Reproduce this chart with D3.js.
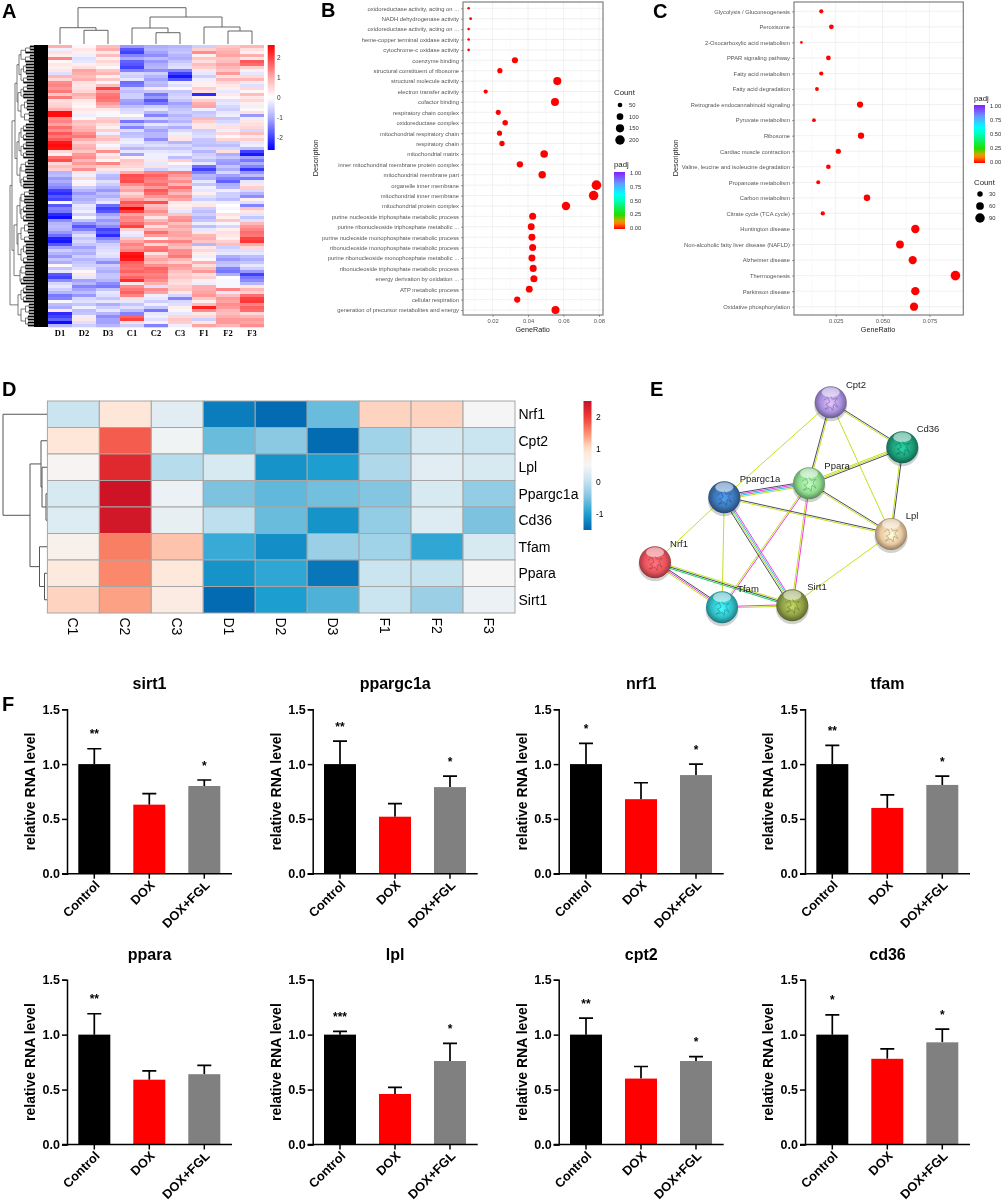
<!DOCTYPE html>
<html>
<head>
<meta charset="utf-8">
<script src="https://cdn.jsdelivr.net/npm/d3@7"></script>
<style>
  html, body { margin: 0; background: #fff; }
  svg { display: block; font-family: "Liberation Sans", Arial, sans-serif; filter: blur(0.35px); }
</style>
</head>
<body>
<div id="chart"></div>
<script>
// panel A: heatmap values in tenths, one row per stripe
var heatCols = ['D1','D2','D3','C1','C2','C3','F1','F2','F3'];
var heatRows = [
[10,1,8,-12,-10,-9,-6,7,9],[-2,3,10,-18,-9,-8,6,9,4],[4,2,3,-20,-11,-7,13,10,2],[2,-2,8,-14,-13,-9,2,11,10],
[14,-4,2,-10,-8,-10,7,7,3],[1,-3,5,-17,-12,-7,4,8,18],[3,2,3,-18,-10,-5,8,11,16],[2,4,1,-20,-9,-4,6,9,6],
[3,11,7,-14,-13,-14,3,7,2],[-4,10,9,-5,-6,-20,-3,12,-3],[9,8,2,-6,-9,-24,-6,4,5],[5,10,7,-3,-11,-18,-2,9,9],
[13,4,1,-16,-8,-2,2,5,3],[14,3,8,-15,-9,-4,2,3,-4],[12,4,20,-6,3,1,6,2,5],[15,5,12,-8,-7,-7,4,-3,1],
[7,10,15,-6,-15,-6,-22,3,8],[15,8,16,-6,-12,-5,2,1,3],[4,3,15,-11,-18,-7,6,-4,5],[5,2,12,-12,-15,-11,10,-3,2],
[6,1,9,-8,-6,-9,11,-5,-2],[10,3,3,-5,-3,-7,-2,-6,1],[25,2,1,-4,-9,-6,-7,-3,4],[25,-2,-1,1,-14,-9,-6,-2,-12],
[13,1,6,-4,-5,-7,9,-7,-2],[14,8,7,-15,-12,-9,6,-5,3],[11,7,4,-7,-3,-5,3,-3,4],[16,9,2,-14,-8,-10,3,4,5],
[13,10,6,-4,-11,-5,-6,-2,-5],[18,13,-2,-8,-9,-2,-5,5,8],[15,15,7,-7,-9,3,-4,1,3],[18,10,8,-3,-13,3,-7,5,6],
[24,6,4,-2,-6,-9,-7,-6,-3],[25,9,-1,-5,-4,-5,-8,-8,-2],[24,10,3,-9,-7,-7,-5,-5,-8],[5,7,13,-3,-3,-4,-9,4,-20],
[2,12,2,-11,-2,-2,-6,-10,-24],[16,13,5,2,-2,-8,-5,-7,-11],[19,9,1,7,3,6,-8,-11,-15],[5,12,14,6,-3,1,-3,-12,-10],
[8,8,6,5,4,-4,-16,-7,-14],[6,13,3,3,-6,-3,-20,-10,-21],[-9,3,-4,10,14,15,-14,-5,-12],[-8,-2,-8,19,17,12,-9,-11,-8],
[-12,5,-9,18,15,10,-10,-14,-15],[-10,-1,-4,19,14,13,-3,-17,-3],[-12,2,-6,13,16,9,-7,-10,3],[-14,-6,-9,9,12,16,-2,-9,6],
[-20,-9,-12,11,18,12,-3,-2,-5],[-22,-12,-8,5,16,9,2,-6,-9],[-18,-9,-10,8,12,13,-4,-6,-13],[-20,-10,-6,12,8,11,-6,-8,2],
[1,-8,-3,18,19,3,-2,-2,-4],[-18,-3,-16,16,8,2,3,0,-14],[-14,-4,-20,26,10,3,-6,-1,7],[-15,-2,-18,20,13,-3,-8,0,3],
[-22,-6,-11,11,10,7,-6,4,-3],[-25,-1,-8,14,3,12,-9,2,-7],[-13,-7,-12,13,9,13,-7,7,-4],[-9,-13,-10,16,12,8,-2,-1,9],
[-8,-18,-13,20,4,11,-8,-5,12],[-9,-14,-20,6,10,9,-3,2,14],[-12,-8,-18,-2,16,11,3,4,16],[-16,-4,-22,-3,12,11,9,3,15],
[-23,-7,-14,7,1,9,10,2,20],[-24,-5,-10,11,14,14,7,6,21],[-18,-7,-6,14,5,10,-9,8,10],[-11,-11,-5,12,15,8,3,-6,5],
[-6,-8,-4,14,16,13,5,-4,-4],[-9,-10,-3,24,4,13,2,-3,-3],[-12,-6,-4,25,9,15,-2,-10,-8],[-7,-9,-8,24,11,9,1,-12,-10],
[-10,-7,-13,17,8,6,10,-8,-7],[1,-6,-6,16,13,12,4,-7,-3],[-7,-4,-8,15,17,11,8,-14,-6],[-3,1,-10,17,16,8,12,-15,-12],
[-18,3,-7,14,14,6,4,-10,-20],[-20,-3,-7,17,15,7,6,0,-15],[-13,-11,-9,22,13,5,2,-1,-13],[-5,-9,-13,3,10,4,-2,-1,-9],
[-3,-14,-15,13,-4,6,10,-1,3],[-6,-11,-7,15,13,7,10,14,9],[-9,-8,-3,17,11,3,11,-3,6],[-15,-12,-4,14,-2,-5,12,8,16],
[-14,-5,-7,4,-3,-14,7,12,20],[-1,-4,-3,-3,-6,-5,2,11,21],[-8,-7,-10,-7,-2,-4,8,13,14],[-10,-2,-6,-4,-7,2,23,12,17],
[3,-8,-3,-8,-15,-1,13,9,16],[-22,-7,-9,-14,-3,-3,3,8,5],[-20,-2,-13,17,-2,5,5,10,9],[-17,3,-11,20,-4,7,-6,12,12],
[-25,-4,-11,4,2,6,3,12,11],[-9,-6,-9,-6,-14,-2,11,9,13]
];
// dendrograms: [height, child, child]; a child is a column index or [firstRow, lastRow]
var heatColTree = [36.3, [16.3, 0, [13.7, 1, 2]], [27, [16, 3, [11.3, 4, 5]], [17, 6, [13, 7, 8]]]];
var heatRowTree = [38,
  [36,
    [33, [31, [29, [0,5], [6,12]], [30, [13,17], [18,25]]], [31, [29, [26,31], [32,37]], [28, [38,42], [43,47]]]],
    [34, [31, [28, [48,52], [53,58]], [30, [59,65], [66,72]]], [28, [73,76], [77,79]]]
  ],
  [30, [80,85], [86,93]]
];

// panel B
var bTerms = ['oxidoreductase activity, acting on ...','NADH dehydrogenase activity','oxidoreductase activity, acting on ...','heme-copper terminal oxidase activity','cytochrome-c oxidase activity','coenzyme binding','structural constituent of ribosome','structural molecule activity','electron transfer activity','cofactor binding','respiratory chain complex','oxidoreductase complex','mitochondrial respiratory chain','respiratory chain','mitochondrial matrix','inner mitochondrial membrane protein complex','mitochondrial membrane part','organelle inner membrane','mitochondrial inner membrane','mitochondrial protein complex','purine nucleoside triphosphate metabolic process','purine ribonucleoside triphosphate metabolic ...','purine nucleoside monophosphate metabolic process','ribonucleoside monophosphate metabolic process','purine ribonucleoside monophosphate metabolic ...','ribonucleoside triphosphate metabolic process','energy derivation by oxidation ...','ATP metabolic process','cellular respiration','generation of precursor metabolites and energy'];
var bRatio = [.0065,.0076,.0065,.0065,.0065,.0326,.0241,.0565,.0161,.0552,.0232,.0271,.0239,.0253,.0491,.0354,.048,.0786,.077,.0614,.0426,.0418,.0422,.0426,.0422,.0429,.0433,.0407,.0339,.0555];
var bCount = [17,20,17,17,17,85,63,147,42,144,60,70,62,66,128,92,125,204,200,160,111,109,110,111,110,112,113,106,88,144];
var bCountLegend = [50,100,150,200];

// panel C
var cTerms = ['Glycolysis / Gluconeogenesis','Peroxisome','2-Oxocarboxylic acid metabolism','PPAR signaling pathway','Fatty acid metabolism','Fatty acid degradation','Retrograde endocannabinoid signaling','Pyruvate metabolism','Ribosome','Cardiac muscle contraction','Valine, leucine and isoleucine degradation','Propanoate metabolism','Carbon metabolism','Citrate cycle (TCA cycle)','Huntington disease','Non-alcoholic fatty liver disease (NAFLD)','Alzheimer disease','Thermogenesis','Parkinson disease','Oxidative phosphorylation'];
var cRatio = [.0173,.0227,.0067,.0211,.0173,.015,.038,.0134,.0385,.0264,.0211,.0157,.0417,.0181,.0675,.0593,.0661,.0889,.0675,.0668];
var cCount = [18,23,7,22,18,15,39,14,40,27,22,16,43,19,70,61,68,92,70,69];
var cCountLegend = [30,60,90];
var padjTicks = [0,.25,.5,.75,1];

// panel D
var geneCols = ['C1','C2','C3','D1','D2','D3','F1','F2','F3'];
var geneRows = ['Nrf1','Cpt2','Lpl','Ppargc1a','Cd36','Tfam','Ppara','Sirt1'];
var geneValues = [
[.05,.95,.3,-1.3,-1.45,-.6,1.1,1.1,.5],
[.95,1.8,.45,-.6,-.4,-1.45,-.25,.15,.05],
[.55,2.2,-.1,.2,-1.1,-1,-.15,.3,.2],
[.2,2.45,.4,-.5,-.65,-.55,-.45,.2,-.35],
[.25,2.4,.35,-.05,-.6,-1.1,-.35,.25,-.5],
[.65,1.6,1.2,-.85,-1.15,-.3,-.25,-.9,.2],
[.85,1.55,.9,-1.1,-.9,-1.35,.05,0,.5],
[1.1,1.4,.8,-1.45,-1,-.75,.05,-.3,.4]];
var geneTree = [44, 0, [17, [6, 1, [5, 2, [1, 3, 4]]], [7.5, 5, [2.5, 6, 7]]]];

// panel E
var netNodes = ['Cpt2','Cd36','Ppara','Ppargc1a','Lpl','Nrf1','Tfam','Sirt1'];
var netColors = ['#a88fdc','#1c9c78','#8edb8e','#3b74b4','#e9c9a0','#e9545c','#30bdc6','#8e9f46'];
var netX = [830.7,902.3,809,724.3,891,655,722,792.3];
var netY = [402.3,447.3,483.3,497.3,534,562.3,607.3,605.3];
var netLabelX = [856,928,837,760,912,679,748,817];
var netLabelY = [385,429,466,479,516,544,589,587];
var netEdges = [
['Cpt2','Cd36','dy'],['Cpt2','Ppara','yd'],['Cpt2','Ppargc1a','y'],['Cpt2','Lpl','y'],
['Cd36','Ppara','dyy'],['Cd36','Lpl','dy'],['Ppara','Ppargc1a','ycmd'],['Ppara','Lpl','dy'],
['Ppara','Sirt1','my'],['Ppara','Tfam','my'],['Ppargc1a','Lpl','dy'],['Ppargc1a','Sirt1','mcyd'],
['Ppargc1a','Nrf1','y'],['Ppargc1a','Tfam','y'],['Lpl','Sirt1','y'],['Nrf1','Tfam','dmy'],
['Nrf1','Sirt1','ydg'],['Tfam','Sirt1','my']];
var channelColors = {y: '#c4df1e', d: '#4a4a66', c: '#1cc4e8', m: '#f03ee0', g: '#18d860'};
var ribbon = [[-7,-3],[-3,-6],[-1,-1],[-5,1],[-2,3],[-6,6],[0,4],[2,7],[3,1],[7,4],[4,-2],[7,-5],[2,-4],[0,-7]];

// panel F
var bioGroups = ['Control','DOX','DOX+FGL'];
var bioTitles = ['sirt1','ppargc1a','nrf1','tfam','ppara','lpl','cpt2','cd36'];
var bioMeans = [[1,.63,.8],[1,.52,.79],[1,.68,.9],[1,.6,.81],[1,.59,.64],[1,.46,.76],[1,.6,.76],[1,.78,.93]];
var bioTops = [[1.14,.73,.855],[1.21,.64,.89],[1.19,.83,1],[1.17,.72,.89],[1.19,.67,.72],[1.03,.52,.92],[1.15,.71,.8],[1.18,.87,1.05]];
var bioStars = [['**','','*'],['**','','*'],['*','','*'],['**','','*'],['**','',''],['***','','*'],['**','','*'],['*','','*']];
var bioTicks = [0,.5,1,1.5];

var svg = d3.select('#chart').append('svg').attr('width', 1003).attr('height', 1202);
var defs = svg.append('defs');

function panelLetter(t, x, y) {
  svg.append('text').attr('x', x).attr('y', y).attr('font-size', 20).attr('font-weight', 'bold').text(t);
}
panelLetter('A', 2, 18); panelLetter('B', 321, 17); panelLetter('C', 653, 18);
panelLetter('D', 2, 396); panelLetter('E', 650, 396); panelLetter('F', 2, 711);

// turns a nested tree into elbow segments; pos maps a leaf index to its centre
function treeSegments(node, pos, out) {
  if (typeof node === 'number') return {p: pos(node), h: 0};
  if (node.length === 2) return rangeNode(node[0], node[1], 27, pos, out);
  var a = treeSegments(node[1], pos, out), b = treeSegments(node[2], pos, out);
  out.push({h: node[0], a: a, b: b});
  return {p: (a.p + b.p) / 2, h: node[0]};
}
// fine branching inside a row cluster, the picture is too dense to read it row by row
function rangeNode(first, last, h, pos, out) {
  if (first === last) return {p: pos(first), h: 0};
  var mid = (first + last) >> 1;
  var step = 2.5 + (first + last) % 3;
  var a = rangeNode(first, mid, h - step, pos, out), b = rangeNode(mid + 1, last, h - step, pos, out);
  out.push({h: h, a: a, b: b});
  return {p: (a.p + b.p) / 2, h: h};
}
function drawHorizontalTree(g, segs, x) {
  g.selectAll('path').data(segs).enter().append('path').attr('fill', 'none')
    .attr('d', function(s) {
      return 'M' + x(s.a.h) + ',' + s.a.p + 'H' + x(s.h) + 'V' + s.b.p + 'H' + x(s.b.h);
    });
}

// ---------- A ----------
var heatX = d3.scaleBand().domain(d3.range(heatCols.length)).range([48, 264]);
var heatY = d3.scaleBand().domain(d3.range(heatRows.length)).range([45, 327]);
var heatColor = d3.scaleLinear().domain([-2.6, -1, 0, 1, 2.6])
  .range(['#0000ff', '#aeaeff', '#ffffff', '#ffaeae', '#ff0000']);
var gA = svg.append('g');
heatRows.forEach(function(row, i) {
  gA.append('g').selectAll('rect').data(row).enter().append('rect')
    .attr('x', function(d, j) { return heatX(j); })
    .attr('y', heatY(i)).attr('width', heatX.bandwidth()).attr('height', heatY.bandwidth() + .3)
    .attr('fill', function(d) { return heatColor(d / 10); });
});
gA.selectAll('.collab').data(heatCols).enter().append('text')
  .attr('x', function(d, i) { return heatX(i) + heatX.bandwidth() / 2; })
  .attr('y', 336).attr('text-anchor', 'middle').attr('font-size', 8.5)
  .attr('font-weight', 'bold').attr('font-family', 'Liberation Serif').text(function(d) { return d; });

var colSegs = [];
treeSegments(heatColTree, function(i) { return heatX(i) + heatX.bandwidth() / 2; }, colSegs);
var colH = d3.scaleLinear().domain([0, 40]).range([44, 4]);
gA.append('g').attr('stroke', '#555').attr('stroke-width', .9).selectAll('path').data(colSegs).enter().append('path')
  .attr('fill', 'none')
  .attr('d', function(s) {
    return 'M' + s.a.p + ',' + colH(s.a.h) + 'V' + colH(s.h) + 'H' + s.b.p + 'V' + colH(s.b.h);
  });

var rowSegs = [];
treeSegments(heatRowTree, function(i) { return heatY(i) + heatY.bandwidth() / 2; }, rowSegs);
var rowH = d3.scaleLinear().domain([0, 38]).range([48, 10]);
var gRowTree = gA.append('g').attr('stroke', '#444').attr('stroke-width', .7);
drawHorizontalTree(gRowTree, rowSegs, rowH);
// leaf spikes pile up into the black comb next to the heatmap
var leafSpikes = [];
rowSegs.forEach(function(s) {
  if (s.a.h === 0) leafSpikes.push({p: s.a.p, h: s.h});
  if (s.b.h === 0) leafSpikes.push({p: s.b.p, h: s.h});
});
gA.append('g').selectAll('line').data(leafSpikes).enter().append('line')
  .attr('x1', 48).attr('x2', function(d) { return rowH(d.h); })
  .attr('y1', function(d) { return d.p; }).attr('y2', function(d) { return d.p; })
  .attr('stroke', '#000').attr('stroke-width', 1.8);
gA.append('rect').attr('x', 34).attr('y', 45).attr('width', 14).attr('height', 282).attr('fill', '#000');

function verticalGradient(id, scale, top, bottom) {
  var g = defs.append('linearGradient').attr('id', id).attr('x1', 0).attr('x2', 0).attr('y1', 0).attr('y2', 1);
  d3.range(0, 1.001, .05).forEach(function(t) {
    g.append('stop').attr('offset', t).attr('stop-color', scale(top + (bottom - top) * t));
  });
}
verticalGradient('gradA', heatColor, 2.64, -2.64);
gA.append('rect').attr('x', 267.7).attr('y', 45).attr('width', 7).attr('height', 105).attr('fill', 'url(#gradA)');
var aBar = d3.scaleLinear().domain([2.64, -2.64]).range([45, 150]);
gA.selectAll('.bartick').data([2, 1, 0, -1, -2]).enter().append('text')
  .attr('x', 277).attr('y', aBar).attr('dy', '.35em').attr('font-size', 6.5).attr('fill', '#333').text(function(d) { return d; });

// ---------- B and C ----------
var padjColor = d3.scaleLinear().domain([0, .12, .25, .5, .62, .8, 1])
  .range(['#ff0000', '#ff9900', '#22dd00', '#00ffbb', '#00ffff', '#6699ff', '#8a1cff']);
verticalGradient('gradPadj', padjColor, 1, 0);

function dotPanel(o) {
  var g = svg.append('g');
  var x = d3.scaleLinear().domain(o.xDomain).range([o.left, o.right]);
  var y = d3.scalePoint().domain(d3.range(o.terms.length)).range([o.top, o.bottom]);
  var size = d3.scalePow().exponent(.5).domain(o.countDomain).range([1.3, 4.8]);
  var half = o.ticks.map(function(t) { return t - (o.ticks[1] - o.ticks[0]) / 2; }).filter(function(t) { return x(t) > o.left; });
  g.selectAll('.minor').data(half).enter().append('line')
    .attr('x1', x).attr('x2', x).attr('y1', 2).attr('y2', 315).attr('stroke', '#f4f4f4').attr('stroke-width', .5);
  g.selectAll('.major').data(o.ticks).enter().append('line')
    .attr('x1', x).attr('x2', x).attr('y1', 2).attr('y2', 315).attr('stroke', '#e8e8e8').attr('stroke-width', .6);
  g.selectAll('.hline').data(d3.range(o.terms.length)).enter().append('line')
    .attr('x1', o.left).attr('x2', o.right).attr('y1', y).attr('y2', y).attr('stroke', '#e8e8e8').attr('stroke-width', .6);
  g.selectAll('circle').data(o.ratio).enter().append('circle')
    .attr('cx', x).attr('cy', function(d, i) { return y(i); })
    .attr('r', function(d, i) { return size(o.count[i]); }).attr('fill', padjColor(0));
  g.append('rect').attr('x', o.left).attr('y', 2).attr('width', o.right - o.left).attr('height', 313)
    .attr('fill', 'none').attr('stroke', '#7f7f7f').attr('stroke-width', 1.2);

  var axB = g.append('g').attr('transform', 'translate(0,315)')
    .call(d3.axisBottom(x).tickValues(o.ticks).tickFormat(o.tickFormat).tickSize(2).tickPadding(2));
  var axL = g.append('g').attr('transform', 'translate(' + o.left + ',0)')
    .call(d3.axisLeft(y).tickFormat(function(i) { return o.terms[i]; }).tickSize(2).tickPadding(2));
  [axB, axL].forEach(function(a) {
    a.select('.domain').remove();
    a.selectAll('.tick line').attr('stroke', '#444').attr('stroke-width', .5);
    a.selectAll('text').attr('font-size', 5.8).attr('font-family', 'Liberation Sans').attr('fill', '#555');
  });
  g.append('text').attr('transform', 'translate(' + o.descX + ',158) rotate(-90)').attr('text-anchor', 'middle')
    .attr('font-size', 7.3).attr('fill', '#222').text('Description');
  g.append('text').attr('x', o.ratioX).attr('y', 332).attr('text-anchor', 'middle')
    .attr('font-size', 7.2).attr('fill', '#222').text('GeneRatio');

  // count legend
  g.append('text').attr('x', o.legendX).attr('y', o.countTitleY).attr('font-size', 7.8).attr('fill', '#222').text('Count');
  var ly = d3.scalePoint().domain(o.countLegend).range(o.countRange);
  g.selectAll('.lc').data(o.countLegend).enter().append('circle')
    .attr('cx', o.legendX + 6).attr('cy', ly).attr('r', size).attr('fill', '#000');
  g.selectAll('.lt').data(o.countLegend).enter().append('text')
    .attr('x', o.legendX + 15).attr('y', ly).attr('dy', '.35em').attr('font-size', 5.8).attr('fill', '#333')
    .text(function(d) { return d; });

  // padj legend
  g.append('text').attr('x', o.legendX).attr('y', o.padjTitleY).attr('font-size', 7.8).attr('fill', '#222').text('padj');
  g.append('rect').attr('x', o.legendX).attr('y', o.barTop).attr('width', 11).attr('height', o.barBottom - o.barTop)
    .attr('fill', 'url(#gradPadj)');
  var py = d3.scaleLinear().domain([0, 1]).range([o.barBottom - 1, o.barTop + 1]);
  g.selectAll('.pt').data(padjTicks).enter().append('text')
    .attr('x', o.legendX + 16).attr('y', py).attr('dy', '.35em').attr('font-size', 5.8).attr('fill', '#333')
    .text(function(d) { return d3.format('.2f')(d); });
}

dotPanel({
  terms: bTerms, ratio: bRatio, count: bCount, countDomain: [17, 205], countLegend: bCountLegend,
  xDomain: [.0033, .0823], left: 463, right: 603, top: 8.3, bottom: 310,
  ticks: [.02, .04, .06, .08], tickFormat: d3.format('.2f'),
  descX: 318, ratioX: 532.7, legendX: 614, countTitleY: 95, countRange: [105, 140],
  padjTitleY: 167, barTop: 172, barBottom: 229
});
dotPanel({
  terms: cTerms, ratio: cRatio, count: cCount, countDomain: [7, 92], countLegend: cCountLegend,
  xDomain: [.00275, .0931], left: 794, right: 963.3, top: 11.3, bottom: 306.7,
  ticks: [.025, .05, .075], tickFormat: d3.format('.3f'),
  descX: 678, ratioX: 878, legendX: 974, countTitleY: 185, countRange: [194, 218],
  padjTitleY: 100.5, barTop: 105, barBottom: 163
});

// ---------- D ----------
var gX = d3.scaleBand().domain(geneCols).range([47.4, 515]);
var gY = d3.scaleBand().domain(geneRows).range([401, 613]);
var geneColor = d3.scaleLinear().domain([-1.5, -1, -.5, 0, .5, 1, 1.5, 2, 2.5])
  .range(['#0065ae', '#1c9fd0', '#7dc3e0', '#c5e2ef', '#f5f5f5', '#ffe5d5', '#fc9070', '#ee3b35', '#ca0f26']);
var gD = svg.append('g');
geneValues.forEach(function(row, i) {
  gD.append('g').selectAll('rect').data(row).enter().append('rect')
    .attr('x', function(d, j) { return gX(geneCols[j]); })
    .attr('y', gY(geneRows[i])).attr('width', gX.bandwidth()).attr('height', gY.bandwidth())
    .attr('fill', geneColor).attr('stroke', '#a6a6a6').attr('stroke-width', 1);
});
gD.selectAll('.rowlab').data(geneRows).enter().append('text')
  .attr('x', 518.5).attr('y', function(d) { return gY(d) + gY.bandwidth() / 2; }).attr('dy', '.35em')
  .attr('font-size', 14).text(function(d) { return d; });
gD.selectAll('.collab').data(geneCols).enter().append('text')
  .attr('transform', function(d) { return 'translate(' + (gX(d) + gX.bandwidth() / 2) + ',617.5) rotate(90)'; })
  .attr('dy', '.35em').attr('font-size', 14).text(function(d) { return d; });
var geneSegs = [];
treeSegments(geneTree, function(i) { return gY(geneRows[i]) + gY.bandwidth() / 2; }, geneSegs);
var geneH = d3.scaleLinear().domain([0, 44]).range([47, 3]);
var gGeneTree = gD.append('g').attr('stroke', '#555').attr('stroke-width', 1);
drawHorizontalTree(gGeneTree, geneSegs, geneH);
verticalGradient('gradD', geneColor, 2.5, -1.5);
gD.append('rect').attr('x', 583.5).attr('y', 401).attr('width', 8).attr('height', 129).attr('fill', 'url(#gradD)');
var dBar = d3.scaleLinear().domain([2.5, -1.5]).range([401, 530]);
gD.selectAll('.bartick').data([2, 1, 0, -1]).enter().append('text')
  .attr('x', 596).attr('y', dBar).attr('dy', '.35em').attr('font-size', 8.5).text(function(d) { return d; });

// ---------- E ----------
var gE = svg.append('g');
var nodeIdx = function(n) { return netNodes.indexOf(n); };
netEdges.forEach(function(e) {
  var a = nodeIdx(e[0]), b = nodeIdx(e[1]);
  var dx = netX[b] - netX[a], dy = netY[b] - netY[a], len = Math.sqrt(dx * dx + dy * dy);
  var nx = -dy / len, ny = dx / len;
  var chans = e[2].split('');
  chans.forEach(function(c, i) {
    var off = (i - (chans.length - 1) / 2) * 1.4;
    gE.append('line')
      .attr('x1', netX[a] + nx * off).attr('y1', netY[a] + ny * off)
      .attr('x2', netX[b] + nx * off).attr('y2', netY[b] + ny * off)
      .attr('stroke', channelColors[c]).attr('stroke-width', 1);
  });
});
netNodes.forEach(function(n, i) {
  var c = d3.color(netColors[i]);
  var grad = defs.append('radialGradient').attr('id', 'ball' + i)
    .attr('cx', '50%').attr('cy', '45%').attr('r', '55%').attr('fx', '50%').attr('fy', '55%');
  grad.append('stop').attr('offset', '0%').attr('stop-color', c.brighter(.9));
  grad.append('stop').attr('offset', '60%').attr('stop-color', c);
  grad.append('stop').attr('offset', '100%').attr('stop-color', c.darker(1.4));
  gE.append('ellipse').attr('cx', netX[i]).attr('cy', netY[i] + 3).attr('rx', 16.5).attr('ry', 16).attr('fill', '#000').attr('opacity', .18);
  gE.append('circle').attr('cx', netX[i]).attr('cy', netY[i]).attr('r', 16).attr('fill', 'url(#ball' + i + ')');
  gE.append('ellipse').attr('cx', netX[i]).attr('cy', netY[i] - 10).attr('rx', 9).attr('ry', 5).attr('fill', '#fff').attr('opacity', .55);
  // small ribbon scribble standing for the protein structure
  gE.append('path').attr('fill', 'none').attr('stroke', c.darker(.9)).attr('stroke-width', .8).attr('opacity', .75)
    .attr('transform', 'translate(' + netX[i] + ',' + (netY[i] + 1) + ')')
    .attr('d', d3.line()(ribbon));
  gE.append('text').attr('x', netLabelX[i]).attr('y', netLabelY[i]).attr('dy', '.35em').attr('text-anchor', 'middle')
    .attr('font-size', 9.5).attr('fill', '#222').text(n);
});

// ---------- F ----------
var barColors = {'Control': '#000000', 'DOX': '#ff0000', 'DOX+FGL': '#808080'};
var axisXs = [67, 312.7, 558.7, 805];
function barPanel(k, x0, y0, y15) {
  var g = svg.append('g');
  var x = d3.scaleBand().domain(bioGroups).range([x0 + 11.3, x0 + 153.3]).paddingInner(.418).paddingOuter(0);
  var y = d3.scaleLinear().domain([0, 1.5]).range([y0, y15]);
  var rows = bioGroups.map(function(name, i) {
    return {name: name, mean: bioMeans[k][i], top: bioTops[k][i], star: bioStars[k][i]};
  });
  g.selectAll('.err').data(rows).enter().append('path').attr('fill', 'none').attr('stroke', '#000').attr('stroke-width', 1.7)
    .attr('d', function(d) {
      var c = x(d.name) + x.bandwidth() / 2;
      return 'M' + c + ',' + y(d.mean) + 'V' + y(d.top) + 'M' + (c - 7) + ',' + y(d.top) + 'H' + (c + 7);
    });
  g.selectAll('.bar').data(rows).enter().append('rect')
    .attr('x', function(d) { return x(d.name); }).attr('width', x.bandwidth())
    .attr('y', function(d) { return y(d.mean); }).attr('height', function(d) { return y0 - y(d.mean); })
    .attr('fill', function(d) { return barColors[d.name]; });
  g.selectAll('.star').data(rows).enter().append('text')
    .attr('x', function(d) { return x(d.name) + x.bandwidth() / 2; })
    .attr('y', function(d) { return y(d.top + .14) + 5; })
    .attr('text-anchor', 'middle').attr('font-size', 12).attr('font-weight', 'bold')
    .text(function(d) { return d.star; });

  var ay = g.append('g').attr('transform', 'translate(' + x0 + ',0)')
    .call(d3.axisLeft(y).tickValues(bioTicks).tickFormat(d3.format('.1f')).tickSize(5).tickPadding(2));
  var ax = g.append('g').attr('transform', 'translate(0,' + y0 + ')')
    .call(d3.axisBottom(x).tickSize(5).tickPadding(3));
  ay.select('.domain').attr('stroke-width', 1.5);
  ax.select('.domain').remove();
  g.append('line').attr('x1', x0 - 5).attr('x2', x0 + 165).attr('y1', y0).attr('y2', y0).attr('stroke', '#000').attr('stroke-width', 1.5);
  ay.selectAll('.tick line').attr('stroke-width', 1.5);
  ax.selectAll('.tick line').attr('stroke-width', 1.5);
  ay.selectAll('text').attr('font-size', 12.5).attr('font-weight', 'bold').attr('font-family', 'Liberation Sans');
  ax.selectAll('text').attr('font-size', 12.8).attr('font-weight', 'bold').attr('font-family', 'Liberation Sans')
    .attr('text-anchor', 'end').attr('y', 0).attr('dy', '.35em')
    .attr('transform', 'translate(3,9) rotate(-45)');
  g.append('text').attr('x', x0 + 82.5).attr('y', y15 - 25.5).attr('dy', '.35em').attr('text-anchor', 'middle')
    .attr('font-size', 16).attr('font-weight', 'bold').text(bioTitles[k]);
  g.append('text').attr('transform', 'translate(' + (x0 - 36.5) + ',' + ((y0 + y15) / 2) + ') rotate(-90)')
    .attr('dy', '.35em').attr('text-anchor', 'middle').attr('font-size', 14).attr('font-weight', 'bold').text('relative RNA level');
}
bioTitles.forEach(function(t, k) {
  if (k < 4) barPanel(k, axisXs[k], 873.7, 709.3);
  else barPanel(k, axisXs[k - 4], 1144.5, 979.7);
});
</script>
</body>
</html>
